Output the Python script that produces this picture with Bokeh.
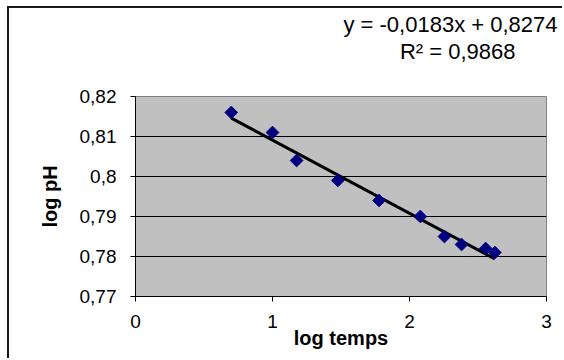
from bokeh.plotting import figure
from bokeh.models import Range1d, FixedTicker, CustomJSTickFormatter, Title, ColumnDataSource
from bokeh.embed import file_html
from bokeh.resources import INLINE
import math

# ---- data ----
log_temps = [0.699, 1.0, 1.176, 1.477, 1.778, 2.079, 2.255, 2.380, 2.556, 2.623]
log_ph = [0.816, 0.811, 0.804, 0.799, 0.794, 0.790, 0.785, 0.783, 0.782, 0.781]
slope = -0.0183
intercept = 0.8274
r_squared = 0.9868
x_ticks = [0, 1, 2, 3]
x_tick_labels = ["0", "1", "2", "3"]
y_ticks = [0.77, 0.78, 0.79, 0.80, 0.81, 0.82]
y_tick_labels = ["0,77", "0,78", "0,79", "0,8", "0,81", "0,82"]
eq_text = "y = -0,0183x + 0,8274"
r2_text = "R\u00b2 = 0,9868"
x_title = "log temps"
y_title = "log pH"

FONT = "Liberation Sans"

p = figure(width=555, height=352, output_backend="svg", toolbar_location=None,
           x_range=Range1d(0, 3), y_range=Range1d(0.77, 0.82),
           min_border_left=126, min_border_top=88, min_border_right=18, min_border_bottom=64)
p.margin = (6, 0, 0, 7)
p.styles = {"border-left": "2px solid #1a1a1a", "border-top": "2px solid #1a1a1a"}

p.title.text = ""
p.background_fill_color = "#C0C0C0"
p.border_fill_color = "white"
p.outline_line_color = "#808080"
p.outline_line_width = 1

# axes
fmt_code = """
for (let i = 0; i < ticks_v.length; i++) {
  if (Math.abs(ticks_v[i] - tick) < 1e-9) { return labels[i]; }
}
return "";
"""
p.xaxis.ticker = FixedTicker(ticks=x_ticks)
p.yaxis.ticker = FixedTicker(ticks=y_ticks)
p.xaxis.formatter = CustomJSTickFormatter(args=dict(ticks_v=x_ticks, labels=x_tick_labels), code=fmt_code)
p.yaxis.formatter = CustomJSTickFormatter(args=dict(ticks_v=y_ticks, labels=y_tick_labels), code=fmt_code)
for ax in (p.xaxis, p.yaxis):
    ax.axis_line_color = "black"
    ax.axis_line_width = 1
    ax.major_tick_line_color = "black"
    ax.major_tick_out = 5
    ax.major_tick_in = 0
    ax.minor_tick_line_color = None
    ax.major_label_text_font = FONT
    ax.major_label_text_font_size = "19px"
    ax.major_label_text_color = "black"
    ax.axis_label_text_font = FONT
    ax.axis_label_text_font_size = "20px"
    ax.axis_label_text_font_style = "bold"
    ax.axis_label_text_color = "black"
p.yaxis.major_label_standoff = 14
p.xaxis.major_label_standoff = 13
p.xaxis.axis_label = x_title
p.yaxis.axis_label = y_title
p.xaxis.axis_label_standoff = -4
p.yaxis.axis_label_standoff = 16

p.xgrid.grid_line_color = None
p.ygrid.grid_line_color = "black"
p.ygrid.grid_line_width = 1
p.ygrid.grid_line_alpha = 1

# trendline
x0, x1 = min(log_temps), max(log_temps)
p.line([x0, x1], [slope * x0 + intercept, slope * x1 + intercept], line_color="black", line_width=3)

# points
src = ColumnDataSource(dict(x=log_temps, y=log_ph))
p.scatter("x", "y", source=src, marker="square", angle=math.pi / 4, size=9,
          fill_color="#000080", line_color="#000080")

# white-on-white spacer between frame and the equation block (nearest to frame)
p.add_layout(Title(text=".", text_color="white", standoff=14, vertical_align="top",
                   text_font=FONT, text_font_size="22px"), "above")
# trendline equation
p.add_layout(Title(text=r2_text, align="right", offset=31, standoff=0, vertical_align="top",
                   text_font=FONT, text_font_size="22px", text_font_style="normal",
                   text_color="black"), "above")
p.add_layout(Title(text=eq_text, align="right", offset=-11, standoff=0, vertical_align="top",
                   text_font=FONT, text_font_size="22px", text_font_style="normal",
                   text_color="black"), "above")

open("out.html", "w").write(file_html(p, INLINE))
